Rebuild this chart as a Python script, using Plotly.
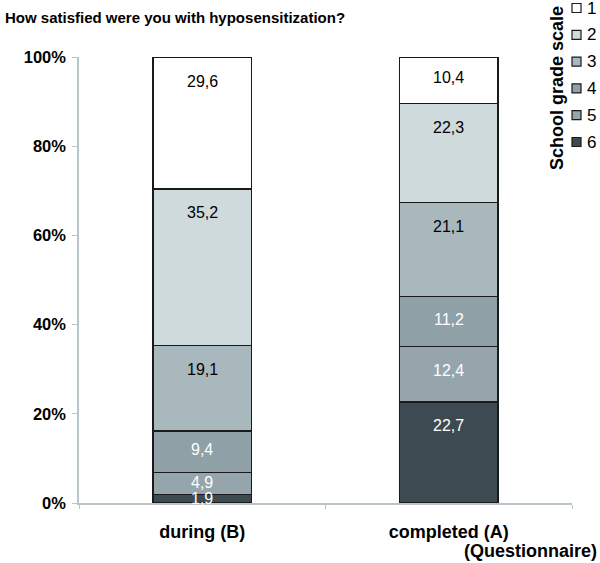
import plotly.graph_objects as go

categories = ["during (B)", "completed (A)"]
grades = ["1", "2", "3", "4", "5", "6"]
values = {
    "1": [29.6, 10.4],
    "2": [35.2, 22.3],
    "3": [19.1, 21.1],
    "4": [9.4, 11.2],
    "5": [4.9, 12.4],
    "6": [1.9, 22.7],
}
colors = {"1": "#ffffff", "2": "#cfdadd", "3": "#a9b8bd", "4": "#8fa0a6",
          "5": "#95a5ab", "6": "#3e4a51"}
text_colors = {"1": "black", "2": "black", "3": "black", "4": "white",
               "5": "white", "6": "white"}
y_ticks = [0, 20, 40, 60, 80, 100]
y_tick_labels = ["0%", "20%", "40%", "60%", "80%", "100%"]

FONT = "Liberation Sans, Arial, sans-serif"
W, H = 600, 563
ML, MR, MT, MB = 79, 28, 57, 60
PW, PH = W - ML - MR, H - MT - MB


def px_x(px):
    return (px - ML) / PW


def px_y(py):
    return (H - MB - py) / PH


fig = go.Figure()
stack_order = list(reversed(grades))  # 6 at bottom
for g in stack_order:
    fig.add_trace(go.Bar(
        x=categories, y=values[g], name=g,
        marker=dict(color=colors[g], line=dict(color="#1a1a1a", width=1.5)),
        hoverinfo="skip", showlegend=False,
    ))

# labels near top of each segment
annotations = []
for ci, cat in enumerate(categories):
    total = sum(values[g][ci] for g in grades)
    cum = 0.0
    for g in stack_order:
        v = values[g][ci]
        bottom = cum * 100 / total
        top = (cum + v) * 100 / total
        cum += v
        seg = top - bottom
        ypos = top - min(5.4, seg * 0.45)
        annotations.append(dict(
            x=cat, y=ypos, xref="x", yref="y",
            text=f"{v:.1f}".replace(".", ","), showarrow=False,
            font=dict(family=FONT, size=16, color=text_colors[g]),
        ))

annotations.append(dict(
    x=px_x(599), y=px_y(551), xref="paper", yref="paper", xanchor="right", yanchor="middle",
    text="<b>(Questionnaire)</b>", showarrow=False,
    font=dict(family=FONT, size=18, color="black"),
))
annotations.append(dict(
    x=px_x(557), y=px_y(88), xref="paper", yref="paper", xanchor="center", yanchor="middle",
    text="<b>School grade scale</b>", showarrow=False, textangle=-90,
    font=dict(family=FONT, size=18, color="black"),
))

# manual legend
shapes = []
for i, g in enumerate(grades):
    cy = 8 + 26.8 * i
    shapes.append(dict(
        type="rect", xref="paper", yref="paper",
        x0=px_x(572), x1=px_x(581), y0=px_y(cy + 4.5), y1=px_y(cy - 4.5),
        fillcolor=colors[g], line=dict(color="#1a1a1a", width=1.2),
    ))
    annotations.append(dict(
        x=px_x(585), y=px_y(cy), xref="paper", yref="paper",
        xanchor="left", yanchor="middle", text=g, showarrow=False,
        font=dict(family=FONT, size=17, color="black"),
    ))

fig.update_layout(
    width=W, height=H,
    margin=dict(l=ML, r=MR, t=MT, b=MB),
    plot_bgcolor="white", paper_bgcolor="white",
    barmode="stack", barnorm="percent", bargap=0.6,
    title=dict(text="<b>How satisfied were you with hyposensitization?</b>",
               x=5 / W, xanchor="left", y=1 - 18 / H, yanchor="middle",
               xref="container", yref="container",
               font=dict(family=FONT, size=15, color="black")),
    showlegend=False,
    annotations=annotations,
    shapes=shapes,
)
fig.update_xaxes(
    showline=True, linecolor="#b8c4c8", linewidth=1.5,
    ticks="outside", tickson="boundaries", ticklen=4, tickcolor="#b8c4c8",
    showgrid=False, ticklabelstandoff=12,
    tickfont=dict(family=FONT, size=18, color="black"),
    tickprefix="<b>", ticksuffix="</b>",
)
fig.update_yaxes(
    range=[0, 100], tickvals=y_ticks, ticktext=[f"<b>{t}</b>" for t in y_tick_labels],
    showline=True, linecolor="#b8c4c8", linewidth=1.5,
    ticks="outside", ticklen=5, tickcolor="#b8c4c8",
    showgrid=False, zeroline=False, ticklabelstandoff=3,
    tickfont=dict(family=FONT, size=16.5, color="black"),
)

fig.write_html("out.html", config={"displayModeBar": False},
               post_script="document.body.style.margin='0';document.body.style.overflow='hidden';")
